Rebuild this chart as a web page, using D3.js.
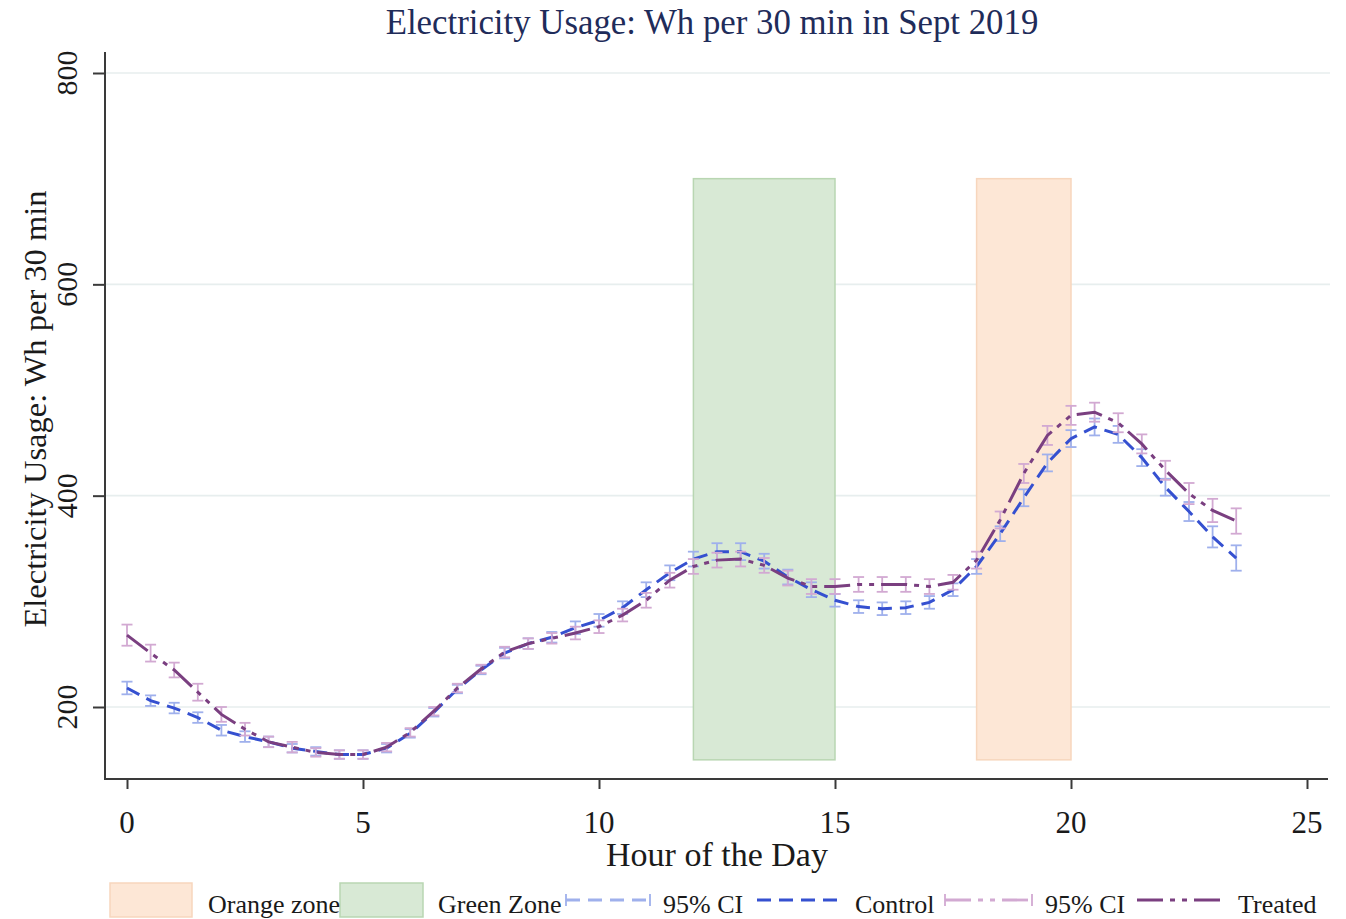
<!DOCTYPE html>
<html><head><meta charset="utf-8">
<script src="https://cdn.jsdelivr.net/npm/d3@7"></script>
<style>
body{margin:0;background:#fff;}
svg{display:block;font-family:"Liberation Serif","DejaVu Serif",serif;}
</style></head>
<body><svg id="c" width="1346" height="919"></svg>
<script>
// ---- data ----
const hours = d3.range(0, 24, 0.5);
const controlMean = [218,206,199,190,178,172,167,161,158,155,155,161,175,195,217,235,251,260,266,275,282,294,311,327,340,347,347,338,323,311,301,295,293,294,299,311,333,364,398,431,454,465,458,436,408,385,361,341];
const controlCI   = [6,5,5,5,5,5,5,4,4,4,4,4,4,4,4,4,5,5,5,6,6,6,7,7,7,8,8,7,7,7,6,6,6,6,6,6,7,7,8,8,8,8,8,8,8,9,10,12];
const treatedMean = [268,251,235,214,193,179,167,162,157,155,155,162,176,196,218,236,252,260,265,270,276,287,301,320,333,339,340,334,322,314,314,316,316,316,314,318,339,377,421,457,476,479,469,449,424,402,386,376];
const treatedCI   = [10,8,7,8,7,6,5,5,4,4,4,4,4,4,4,4,5,5,5,6,6,6,7,7,7,7,7,7,7,7,7,7,7,7,7,7,8,8,9,9,9,9,9,9,9,10,11,12];
const zones = [{name:"Orange zone", from:18, to:20, lo:150, hi:700},
               {name:"Green Zone",  from:12, to:15, lo:150, hi:700}];
const yTicks = [200,400,600,800];
const xTicks = [0,5,10,15,20,25];
const titleText = "Electricity Usage: Wh per 30 min in Sept 2019";
const xTitle = "Hour of the Day";
const yTitle = "Electricity Usage: Wh per 30 min";
const legendLabels = ["Orange zone","Green Zone","95% CI","Control","95% CI","Treated"];

// ---- styles ----
const C = {
  orangeFill:"#fde7d6", orangeStroke:"#f7d6bd",
  greenFill:"#d8e9d5", greenStroke:"#b9d6b2",
  ctrl:"#3550d0", ctrlCI:"#9fb0ec",
  trt:"#7a3f80", trtCI:"#d2a9d2",
  grid:"#e7eeee", axis:"#3a3a3a", text:"#1a1a1a", title:"#1f2c5a"
};
const ctrlDash = "14,8";
const trtDash = "26,7,5,7,5,7";

const svg = d3.select("#c");
const x = d3.scaleLinear().domain([0,25]).range([127,1307]);
const y = d3.scaleLinear().domain([200,800]).range([707,73]);
const plotL = 105, plotR = 1330, plotB = 779, plotT = 52;

// gridlines
svg.append("g").selectAll("line").data(yTicks).join("line")
  .attr("x1", plotL).attr("x2", plotR)
  .attr("y1", d=>y(d)).attr("y2", d=>y(d))
  .attr("stroke", C.grid).attr("stroke-width", 1.6);

// zones
const zfill = {"Orange zone":[C.orangeFill,C.orangeStroke], "Green Zone":[C.greenFill,C.greenStroke]};
svg.append("g").selectAll("rect").data(zones).join("rect")
  .attr("x", d=>x(d.from)).attr("width", d=>x(d.to)-x(d.from))
  .attr("y", d=>y(d.hi)).attr("height", d=>y(d.lo)-y(d.hi))
  .attr("fill", d=>zfill[d.name][0]).attr("stroke", d=>zfill[d.name][1]).attr("stroke-width", 1.5);

function drawCI(mean, ci, color){
  const g = svg.append("g").attr("stroke", color).attr("stroke-width", 1.8).attr("fill","none");
  hours.forEach((h,i)=>{
    const cx = x(h), y1 = y(mean[i]-ci[i]), y2 = y(mean[i]+ci[i]);
    g.append("line").attr("x1",cx).attr("x2",cx).attr("y1",y1).attr("y2",y2);
    g.append("line").attr("x1",cx-5.5).attr("x2",cx+5.5).attr("y1",y1).attr("y2",y1);
    g.append("line").attr("x1",cx-5.5).attr("x2",cx+5.5).attr("y1",y2).attr("y2",y2);
  });
}
function drawLine(mean, color, dash){
  const line = d3.line().x((d,i)=>x(hours[i])).y(d=>y(d));
  svg.append("path").datum(mean).attr("d", line)
    .attr("fill","none").attr("stroke", color).attr("stroke-width", 3)
    .attr("stroke-dasharray", dash);
}
drawCI(controlMean, controlCI, C.ctrlCI);
drawLine(controlMean, C.ctrl, ctrlDash);
drawCI(treatedMean, treatedCI, C.trtCI);
drawLine(treatedMean, C.trt, trtDash);

// axes
const yAxis = d3.axisLeft(y).tickValues(yTicks).tickSize(12).tickSizeOuter(0).tickFormat("");
const yg = svg.append("g").attr("transform", `translate(${plotL},0)`).call(yAxis);
yg.select(".domain").remove();
yg.selectAll(".tick line").attr("stroke", C.axis).attr("stroke-width", 2);
svg.append("line").attr("x1",plotL).attr("x2",plotL).attr("y1",plotT).attr("y2",plotB+1)
  .attr("stroke",C.axis).attr("stroke-width",2);
svg.append("g").selectAll("text").data(yTicks).join("text")
  .attr("transform", d=>`translate(77,${y(d)}) rotate(-90)`)
  .attr("text-anchor","middle").attr("font-size",30).attr("fill",C.text).text(d=>d);

const xAxis = d3.axisBottom(x).tickValues(xTicks).tickSize(10).tickSizeOuter(0).tickFormat("");
const xg = svg.append("g").attr("transform", `translate(0,${plotB})`).call(xAxis);
xg.select(".domain").remove();
xg.selectAll(".tick line").attr("stroke", C.axis).attr("stroke-width", 2);
svg.append("line").attr("x1",plotL-1).attr("x2",1328).attr("y1",plotB).attr("y2",plotB)
  .attr("stroke",C.axis).attr("stroke-width",2);
svg.append("g").selectAll("text").data(xTicks).join("text")
  .attr("x", d=>x(d)).attr("y", 833).attr("text-anchor","middle")
  .attr("font-size",31).attr("fill",C.text).text(d=>d);

// titles
svg.append("text").attr("x",712).attr("y",34).attr("text-anchor","middle")
  .attr("font-size",34.8).attr("fill",C.title).text(titleText);
svg.append("text").attr("x",717).attr("y",866).attr("text-anchor","middle")
  .attr("font-size",34).attr("fill",C.text).text(xTitle);
svg.append("text").attr("transform","translate(46,409) rotate(-90)").attr("text-anchor","middle")
  .attr("font-size",32.5).attr("fill",C.text).text(yTitle);

// legend
const lg = svg.append("g");
const ly = 900, lty = 913;
lg.append("rect").attr("x",110).attr("y",883).attr("width",82).attr("height",34)
  .attr("fill",C.orangeFill).attr("stroke",C.orangeStroke).attr("stroke-width",1.5);
lg.append("rect").attr("x",340).attr("y",883).attr("width",83).attr("height",34)
  .attr("fill",C.greenFill).attr("stroke",C.greenStroke).attr("stroke-width",1.5);
function ciSym(x1,x2,color,dash){
  lg.append("line").attr("x1",x1).attr("x2",x2).attr("y1",ly).attr("y2",ly)
    .attr("stroke",color).attr("stroke-width",2.8).attr("stroke-dasharray",dash);
  [x1,x2].forEach(xx=>lg.append("line").attr("x1",xx).attr("x2",xx).attr("y1",ly-6).attr("y2",ly+6)
    .attr("stroke",color).attr("stroke-width",1.8));
}
ciSym(566,650,C.ctrlCI,ctrlDash);
lg.append("line").attr("x1",757).attr("x2",838).attr("y1",ly).attr("y2",ly)
  .attr("stroke",C.ctrl).attr("stroke-width",3).attr("stroke-dasharray",ctrlDash);
ciSym(945,1032,C.trtCI,trtDash);
lg.append("line").attr("x1",1137).attr("x2",1223).attr("y1",ly).attr("y2",ly)
  .attr("stroke",C.trt).attr("stroke-width",3).attr("stroke-dasharray",trtDash);
const lx = [208,438,663,855,1045,1238];
lg.selectAll("text.lt").data(legendLabels).join("text").attr("class","lt")
  .attr("x",(d,i)=>lx[i]).attr("y",lty).attr("font-size",26).attr("fill",C.text).text(d=>d);
</script></body></html>
